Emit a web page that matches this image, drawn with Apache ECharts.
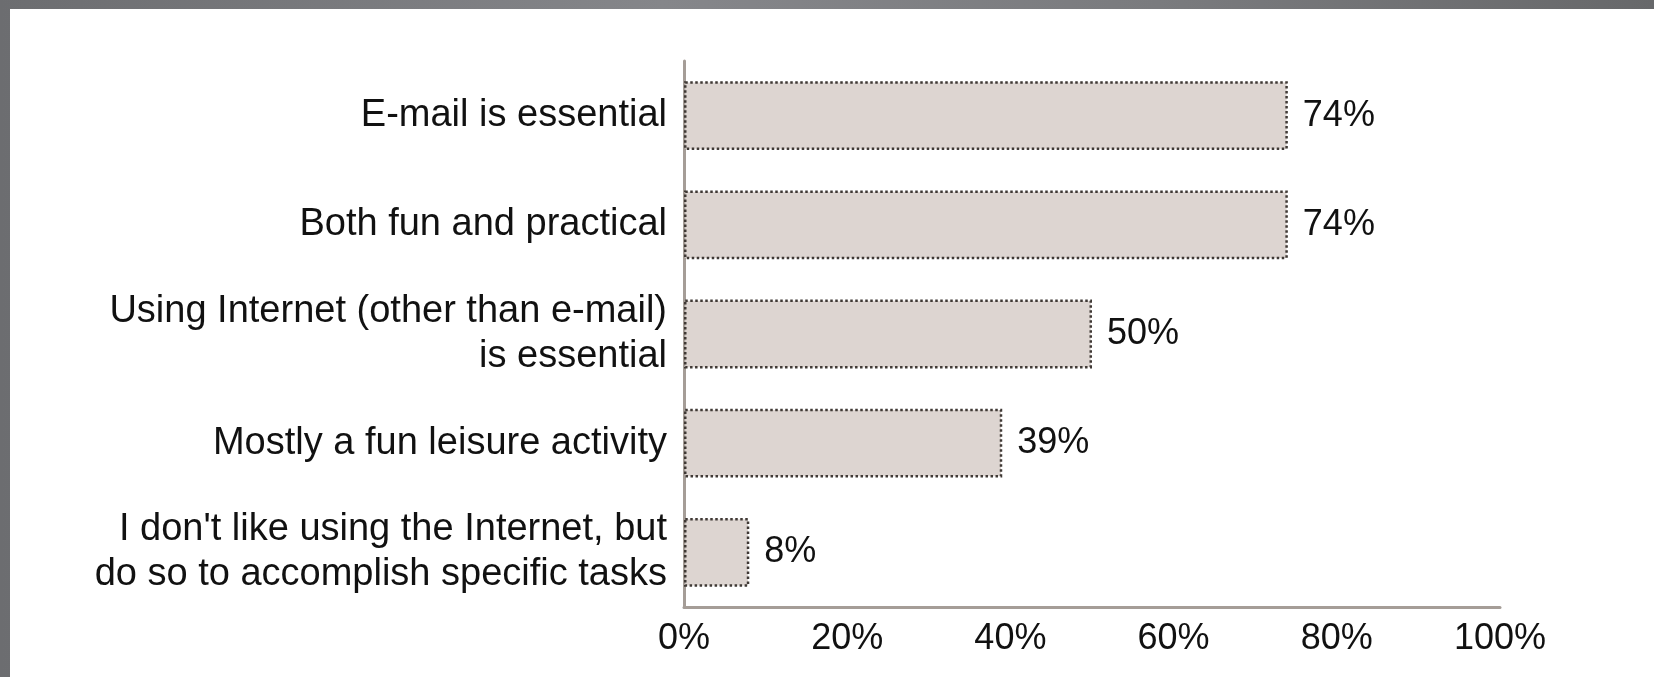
<!DOCTYPE html>
<html>
<head>
<meta charset="utf-8">
<script src="https://cdn.jsdelivr.net/npm/echarts@6/dist/echarts.min.js"></script>
<style>
    html, body { margin: 0; padding: 0; }
    body {
        width: 1654px;
        height: 677px;
        background: linear-gradient(90deg, #6c6d70 0%, #85868a 40%, #7a7b7e 70%, #67686a 100%);
        position: relative;
        overflow: hidden;
    }
    #chart {
        position: absolute;
        left: 10px;
        top: 9px;
        width: 1644px;
        height: 668px;
        background: #ffffff;
    }
</style>
</head>
<body>
<div id="chart"></div>
<script>
    // categories top to bottom
    var categories = [
        'E-mail is essential',
        'Both fun and practical',
        'Using Internet (other than e-mail)\nis essential',
        'Mostly a fun leisure activity',
        'I don\'t like using the Internet, but\ndo so to accomplish specific tasks'
    ]
    var values = [74, 74, 50, 39, 8]

    var myChart = echarts.init(document.getElementById('chart'))
    var font = 'Liberation Sans, Arial, sans-serif'

    var option = {
        animation: false,
        grid: {
            left: 674,
            right: 154,
            top: 52,
            bottom: 70
        },
        xAxis: {
            type: 'value',
            min: 0,
            max: 100,
            interval: 20,
            splitLine: { show: false },
            axisTick: { show: false },
            axisLine: {
                show: true,
                lineStyle: { color: '#a59d97', width: 3 }
            },
            axisLabel: {
                formatter: '{value}%',
                color: '#111',
                fontSize: 36,
                fontFamily: font,
                margin: 14
            }
        },
        yAxis: {
            type: 'category',
            data: categories,
            inverse: true,
            axisTick: { show: false },
            axisLine: {
                show: true,
                lineStyle: { color: '#a59d97', width: 3 }
            },
            axisLabel: {
                color: '#111',
                fontSize: 38,
                lineHeight: 45,
                fontFamily: font,
                margin: 17
            }
        },
        series: [{
            type: 'bar',
            data: values,
            barWidth: '63%',
            itemStyle: {
                color: '#ddd5d1',
                borderColor: '#3f3935',
                borderWidth: 2.5,
                borderType: 'dotted'
            },
            label: {
                show: true,
                position: 'right',
                distance: 15,
                formatter: '{c}%',
                color: '#111',
                fontSize: 36,
                fontFamily: font
            }
        }]
    }
    myChart.setOption(option)
</script>
</body>
</html>
